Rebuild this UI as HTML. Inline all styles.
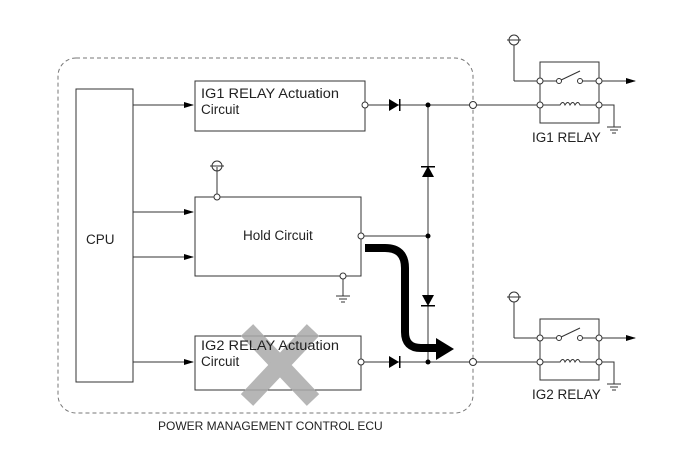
<!DOCTYPE html>
<html><head><style>body{margin:0;background:#fff}svg{display:block}text{font-family:"Liberation Sans",Arial,sans-serif;font-size:13.5px;fill:#222}</style></head><body>
<svg width="690" height="465" viewBox="0 0 690 465" xmlns="http://www.w3.org/2000/svg">
<defs><marker id="a" markerWidth="10" markerHeight="8" refX="9" refY="4" orient="auto" markerUnits="userSpaceOnUse"><path d="M0,1 L10,4 L0,7Z" fill="#000"/></marker></defs>
<g fill="none" stroke="#333" stroke-width="1">
<rect x="58" y="58" width="415" height="355" rx="18" stroke="#777" stroke-dasharray="4,3"/>
<rect x="76" y="89" width="57" height="293" fill="#fff"/>
<rect x="195" y="81" width="170" height="50"/>
<rect x="195" y="197" width="166" height="79"/>
<rect x="195" y="336" width="166" height="54"/>
<line x1="133" y1="105" x2="193" y2="105" marker-end="url(#a)"/>
<line x1="133" y1="212" x2="193" y2="212" marker-end="url(#a)"/>
<line x1="133" y1="257" x2="193" y2="257" marker-end="url(#a)"/>
<line x1="133" y1="362" x2="193" y2="362" marker-end="url(#a)"/>
<line x1="365" y1="105" x2="540" y2="105"/>
<line x1="361" y1="236" x2="428" y2="236"/>
<line x1="361" y1="362" x2="540" y2="362"/>
<line x1="428" y1="105" x2="428" y2="362"/>
<line x1="217" y1="167" x2="217" y2="197"/><circle cx="217" cy="166" r="5"/><line x1="210" y1="166" x2="224" y2="166"/>
<line x1="343" y1="276" x2="343" y2="296"/><line x1="336" y1="296" x2="350" y2="296"/><line x1="339" y1="299" x2="347" y2="299"/><line x1="341" y1="302" x2="345" y2="302"/>
<g id="r1">
<rect x="540" y="62" width="59" height="61"/>
<line x1="514" y1="45" x2="514" y2="81"/><line x1="514" y1="81" x2="540" y2="81"/><circle cx="514" cy="40" r="5"/><line x1="507" y1="40" x2="521" y2="40"/>
<line x1="540" y1="81" x2="559" y2="81"/><line x1="559" y1="81" x2="580" y2="71"/><line x1="580" y1="81" x2="599" y2="81"/>
<line x1="599" y1="81" x2="635" y2="81" marker-end="url(#a)"/>
<path d="M540,105 H560 q3,-5 5,0 q3,-5 5,0 q3,-5 5,0 q3,-5 5,0 H599 H614 V127"/>
<line x1="607" y1="127" x2="621" y2="127"/><line x1="610" y1="130" x2="618" y2="130"/><line x1="612" y1="133" x2="616" y2="133"/>
<g fill="#fff"><circle cx="540" cy="81" r="3"/><circle cx="599" cy="81" r="3"/><circle cx="540" cy="105" r="3"/><circle cx="599" cy="105" r="3"/><circle cx="559" cy="81" r="2.5"/><circle cx="580" cy="81" r="2.5"/></g>
</g>
<use href="#r1" transform="translate(0,257)"/>
<g fill="#fff"><circle cx="473" cy="105" r="3.5"/><circle cx="473" cy="362" r="3.5"/><circle cx="361" cy="236" r="3"/><circle cx="365" cy="105" r="3"/><circle cx="361" cy="362" r="3"/><circle cx="217" cy="197" r="3"/><circle cx="343" cy="276" r="3"/></g>
</g>
<g fill="#000"><circle cx="428" cy="105" r="2.5"/><circle cx="428" cy="236" r="2.5"/><circle cx="428" cy="362" r="2.5"/>
<path d="M389,99 L399,105 L389,111Z"/><rect x="399" y="99" width="1.5" height="12"/>
<path d="M389,356 L399,362 L389,368Z"/><rect x="399" y="356" width="1.5" height="12"/>
<path d="M422,177 L428,166 L434,177Z"/><rect x="421" y="166" width="14" height="1.5"/>
<path d="M422,295 L428,306 L434,295Z"/><rect x="421" y="305" width="14" height="1.5"/>
</g>
<g stroke="#aaa" stroke-width="17" opacity="0.85"><line x1="247" y1="330" x2="313" y2="400"/><line x1="313" y1="330" x2="247" y2="400"/></g>
<path d="M365,248 H385 Q405,248 405,268 V332 Q405,348 421,348 H438" fill="none" stroke="#000" stroke-width="8"/>
<path d="M436,338 L454,349 L436,360Z" fill="#000"/>
<text x="86" y="244">CPU</text>
<text x="201" y="98" textLength="138" lengthAdjust="spacingAndGlyphs">IG1 RELAY Actuation</text><text x="201" y="114">Circuit</text>
<text x="243" y="240">Hold Circuit</text>
<text x="201" y="350" textLength="138" lengthAdjust="spacingAndGlyphs">IG2 RELAY Actuation</text><text x="201" y="366">Circuit</text>
<text x="532" y="142">IG1 RELAY</text>
<text x="532" y="399">IG2 RELAY</text>
<text x="158" y="430" style="font-size:12px">POWER MANAGEMENT CONTROL ECU</text>
</svg>
</body></html>
